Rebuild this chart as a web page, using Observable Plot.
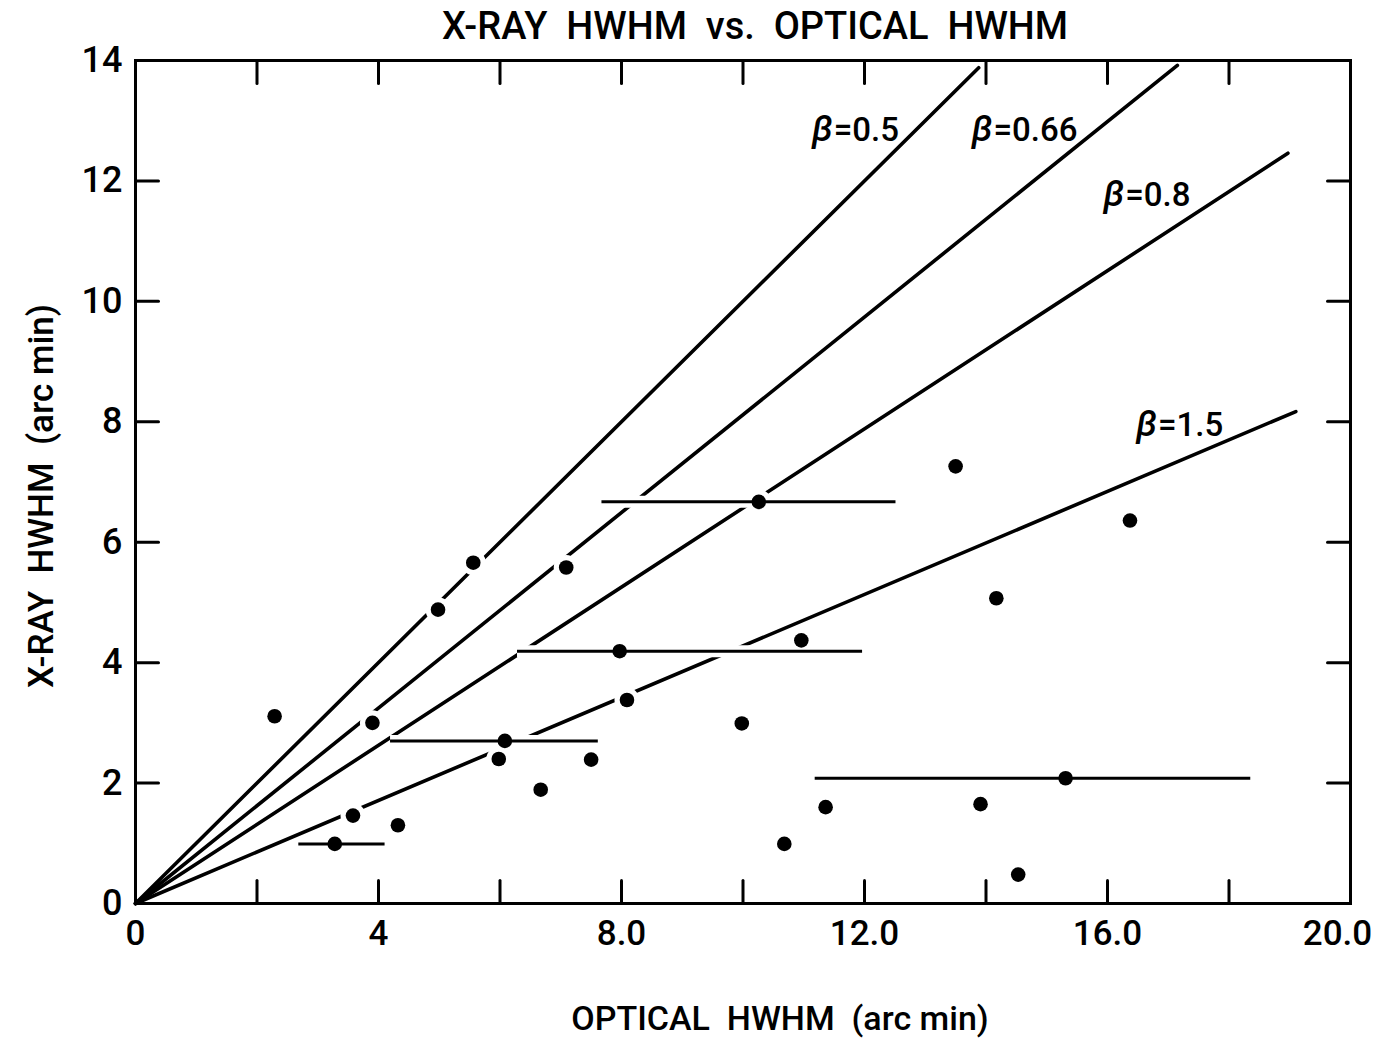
<!DOCTYPE html>
<html>
<head>
<meta charset="utf-8">
<script src="https://cdn.jsdelivr.net/npm/d3@7"></script>
<script src="https://cdn.jsdelivr.net/npm/@observablehq/plot@0.6"></script>
<style>
  html, body { margin: 0; padding: 0; background: #fff; }
  #chart svg { display: block; }
</style>
</head>
<body>
<div id="chart"></div>
<script>
// ---- data ----
const optical = [2.29, 3.28, 3.58, 3.90, 4.32, 4.98, 5.56, 5.98, 6.08, 6.67, 7.09, 7.50, 7.97,
                 8.09, 9.98, 10.26, 10.68, 10.96, 11.36, 13.50, 13.91, 14.17, 14.53, 15.31, 16.37];
const xray    = [3.11, 0.99, 1.46, 3.00, 1.30, 4.88, 5.66, 2.40, 2.70, 1.89, 5.58, 2.39, 4.19,
                 3.38, 2.99, 6.67, 0.99, 4.37, 1.60, 7.26, 1.65, 5.07, 0.48, 2.08, 6.36];
// horizontal error bars (index of the point they belong to, low / high optical HWHM)
const barPoint = [1, 8, 12, 15, 23];
const barLo    = [2.68, 4.19, 6.28, 7.67, 11.18];
const barHi    = [4.10, 7.61, 11.96, 12.51, 18.35];
// model lines through the origin
const betaValues = ["0.5", "0.66", "0.8", "1.5"];
const lineEndX   = [13.88, 17.15, 18.97, 19.10];
const lineEndY   = [13.88, 13.92, 12.46, 8.17];
const betaLabelX = [11.13, 13.76, 15.93, 16.47];
const betaLabelY = [12.67, 12.67, 11.59, 7.77];
// axes
const xTickValues = [0, 4, 8, 12, 16];
const xTickLabels = ["0", "4", "8.0", "12.0", "16.0"];
const xLastTick = [20];
const xLastLabel = "20.0";
const xMinorTicks = [2, 4, 6, 8, 10, 12, 14, 16, 18];
const yTickValues = [0, 2, 4, 6, 8, 10, 12, 14];
const yInnerTicks = [2, 4, 6, 8, 10, 12];
const titleText = "X-RAY\u00a0\u00a0HWHM\u00a0\u00a0vs.\u00a0\u00a0OPTICAL\u00a0\u00a0HWHM";
const xLabelText = "OPTICAL\u00a0\u00a0HWHM\u00a0\u00a0(arc\u00a0min)";
const yLabelText = "X-RAY\u00a0\u00a0HWHM\u00a0\u00a0(arc\u00a0min)";

// ---- build tables ----
const points = optical.map((x, i) => ({x, y: xray[i]}));
const bars = barPoint.map((p, i) => ({y: xray[p], lo: barLo[i], hi: barHi[i]}));
const lines = betaValues.map((b, i) => ({beta: b, x2: lineEndX[i], y2: lineEndY[i], lx: betaLabelX[i], ly: betaLabelY[i]}));

const tickShape = {draw(ctx, l) { ctx.moveTo(0, 0); ctx.lineTo(0, -l); }};
const TICK = 23;
const FONT = "Roboto, 'Liberation Sans', 'DejaVu Sans', sans-serif";

const chart = Plot.plot({
  width: 1380,
  height: 1044,
  marginLeft: 135,
  marginRight: 30,
  marginTop: 60,
  marginBottom: 141,
  style: {fontFamily: FONT, fontWeight: 500, color: "black", background: "white", overflow: "visible"},
  x: {domain: [0, 20]},
  y: {domain: [0, 14]},
  marks: [
    // model lines
    Plot.link(lines, {x1: 0, y1: 0, x2: "x2", y2: "y2", stroke: "black", strokeWidth: 3.6, strokeLinecap: "round"}),
    // white halos that break the lines around points and bars
    Plot.dot(points, {x: "x", y: "y", r: 7, fill: "white", stroke: "white", strokeWidth: 11}),
    Plot.link(bars, {x1: "lo", x2: "hi", y1: "y", y2: "y", stroke: "white", strokeWidth: 12, strokeLinecap: "butt"}),
    // error bars
    Plot.link(bars, {x1: "lo", x2: "hi", y1: "y", y2: "y", stroke: "black", strokeWidth: 3, strokeLinecap: "butt"}),
    // data points
    Plot.dot(points, {x: "x", y: "y", r: 7.3, fill: "black", stroke: "none"}),
    // frame
    Plot.frame({stroke: "black", strokeWidth: 3}),
    // inward ticks
    Plot.vector(xMinorTicks, {x: d => d, y: 0, length: TICK, rotate: 0, anchor: "start", shape: tickShape, stroke: "black", strokeWidth: 3}),
    Plot.vector(xMinorTicks, {x: d => d, y: 14, length: TICK, rotate: 180, anchor: "start", shape: tickShape, stroke: "black", strokeWidth: 3}),
    Plot.vector(yInnerTicks, {x: 0, y: d => d, length: TICK, rotate: 90, anchor: "start", shape: tickShape, stroke: "black", strokeWidth: 3}),
    Plot.vector(yInnerTicks, {x: 20, y: d => d, length: TICK, rotate: -90, anchor: "start", shape: tickShape, stroke: "black", strokeWidth: 3}),
    // tick labels
    Plot.axisX(xTickValues, {anchor: "bottom", tickSize: 0, tickPadding: 17, fontSize: 35,
      tickFormat: d => xTickLabels[xTickValues.indexOf(d)], label: null}),
    Plot.axisX(xLastTick, {anchor: "bottom", tickSize: 0, tickPadding: 17, fontSize: 35, dx: -13,
      tickFormat: () => xLastLabel, label: null}),
    Plot.axisY(yTickValues, {anchor: "left", tickSize: 0, tickPadding: 13, fontSize: 36,
      tickFormat: d => String(d), label: null}),
    // axis titles
    Plot.text([xLabelText], {frameAnchor: "bottom", text: d => d, dx: 37, dy: 126, lineAnchor: "bottom", fontSize: 34}),
    Plot.text([yLabelText], {frameAnchor: "left", text: d => d, rotate: -90, textAnchor: "middle", dx: -83, dy: 14, lineAnchor: "bottom", fontSize: 35}),
    // chart title
    Plot.text([titleText], {frameAnchor: "top", text: d => d, dx: 12, dy: -22, lineAnchor: "bottom", fontSize: 38}),
    // beta labels
    Plot.text(lines, {x: "lx", y: "ly", text: () => "β", fontStyle: "italic", textAnchor: "start", lineAnchor: "bottom", fontSize: 36}),
    Plot.text(lines, {x: "lx", y: "ly", text: d => "=" + d.beta, textAnchor: "start", lineAnchor: "bottom", dx: 22, fontSize: 33})
  ]
});
document.getElementById("chart").appendChild(chart);
</script>
</body>
</html>
